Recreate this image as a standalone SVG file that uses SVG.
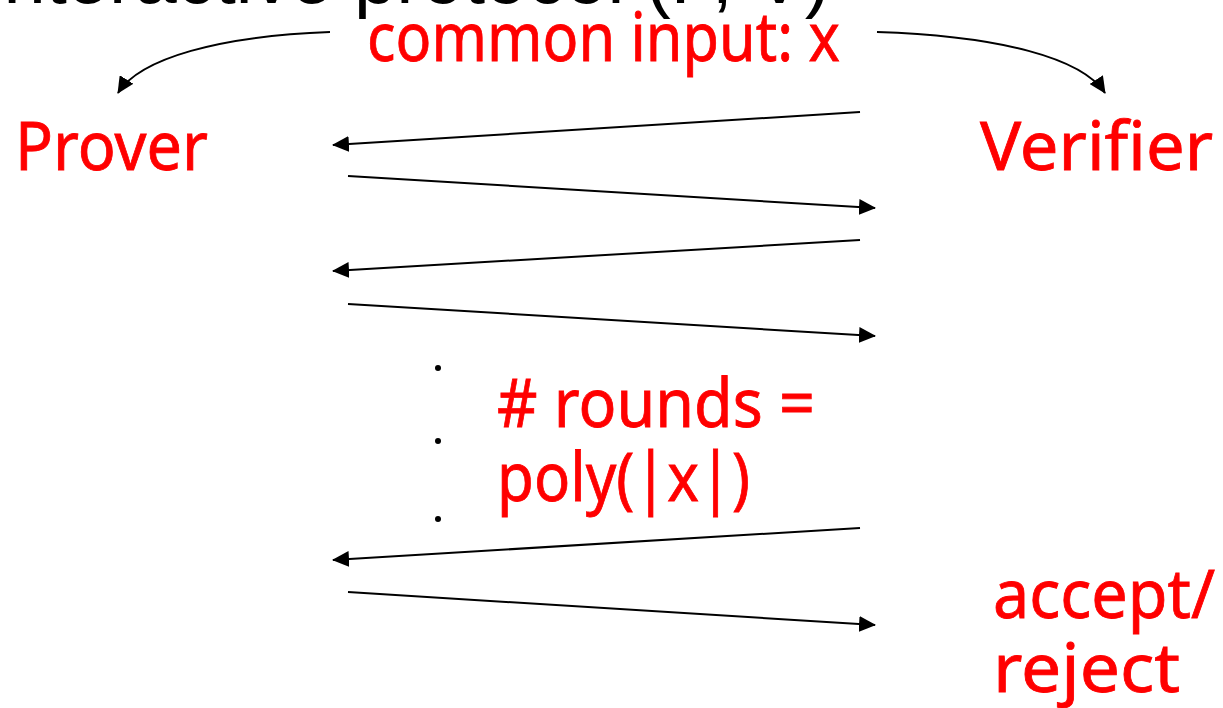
<svg xmlns="http://www.w3.org/2000/svg" width="1223" height="708" viewBox="0 0 1223 708">
<defs>
<marker id="ah" markerUnits="userSpaceOnUse" markerWidth="18" markerHeight="16" refX="16" refY="8" orient="auto">
<path d="M0,0 L17,8 L0,16 Z" fill="#000"/>
</marker>
<style>
.lbl{font-family:"Noto Sans","DejaVu Sans",sans-serif;fill:#ff0000;font-size:68px;stroke:#ff0000;stroke-width:0.8}
.ttl{font-family:"Liberation Sans",Arial,sans-serif;fill:#000;font-size:76px}
.msg{stroke:#000;stroke-width:2;fill:none;marker-end:url(#ah)}
</style>
</defs>
<rect width="1223" height="708" fill="#fff"/>
<text class="ttl" x="830" y="3" text-anchor="end">Interactive protocol (P, V)</text>
<g id="common-input"><text class="lbl" x="367" y="61" font-size="66" textLength="473" lengthAdjust="spacingAndGlyphs">common input: x</text></g>
<g id="prover"><text class="lbl" x="15" y="170" textLength="193" lengthAdjust="spacingAndGlyphs">Prover</text></g>
<g id="verifier"><text class="lbl" x="980" y="170" textLength="233" lengthAdjust="spacingAndGlyphs">Verifier</text></g>
<g id="rounds"><text class="lbl" x="497" y="427" textLength="318" lengthAdjust="spacingAndGlyphs"># rounds =</text><text class="lbl" x="497" y="501" textLength="253" lengthAdjust="spacingAndGlyphs">poly(|x|)</text></g>
<g id="decision"><text class="lbl" x="993" y="618" textLength="222" lengthAdjust="spacingAndGlyphs">accept/</text><text class="lbl" x="993" y="692" textLength="187" lengthAdjust="spacingAndGlyphs">reject</text></g>
<g id="dots" fill="#000"><circle cx="438" cy="368" r="3"/><circle cx="438" cy="441" r="3"/><circle cx="438" cy="519" r="3"/></g>
<g id="connectors">
<path class="msg" d="M330,32 C220,36 140,58 118,93"/>
<path class="msg" d="M877,32 C1000,36 1082,58 1105,93"/>
<path class="msg" d="M860,112 L333,145"/>
<path class="msg" d="M348,176 L875,208"/>
<path class="msg" d="M860,240 L333,271"/>
<path class="msg" d="M348,304 L875,336"/>
<path class="msg" d="M860,528 L333,560"/>
<path class="msg" d="M348,592 L875,625"/>
</g>
</svg>
